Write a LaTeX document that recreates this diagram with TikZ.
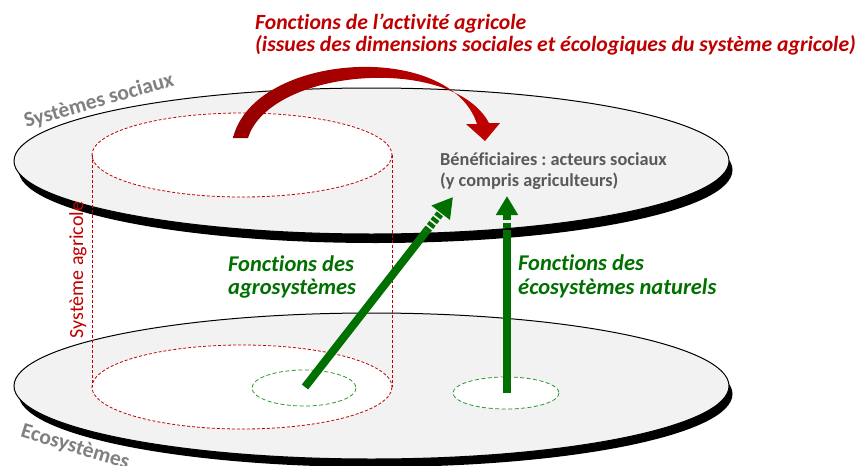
\documentclass[tikz,border=0pt]{standalone}
\usepackage{fontspec}
\setmainfont{Carlito}[Ligatures=NoCommon]
\usepackage{xcolor}
\usetikzlibrary{arrows.meta,calc}
\definecolor{rouge}{RGB}{192,0,0}
\definecolor{rougefonce}{RGB}{150,0,0}
\definecolor{vert}{RGB}{0,112,0}
\definecolor{vertclair}{RGB}{40,150,40}
\definecolor{grisfond}{RGB}{242,242,242}
\definecolor{gristexte}{RGB}{128,128,128}
\definecolor{grisbenef}{RGB}{89,89,89}
\frenchspacing

\begin{document}
\begin{tikzpicture}[x=1pt, y=-1pt,
        plateau/.style={fill=grisfond, draw=black, line width=1pt},
        ombre/.style={fill=black},
        cylindre/.style={draw=rouge, line width=0.8pt, dash pattern=on 3pt off 2pt},
        zone/.style={draw=vertclair, line width=0.8pt, dash pattern=on 4pt off 2.5pt, fill=white},
        fleche/.style={draw=vert, line width=8pt},
        titre/.style={text=rouge, font=\fontsize{21.7}{23}\selectfont\bfseries\itshape, inner sep=0pt},
        vtexte/.style={text=vert, font=\fontsize{22.5}{24}\selectfont\bfseries\itshape, inner sep=0pt},
        benef/.style={text=grisbenef, font=\fontsize{18.3}{20}\selectfont\bfseries, inner sep=0pt},
        niveau/.style={text=gristexte, font=\fontsize{21.5}{23}\selectfont\bfseries, inner sep=0pt}]
        \useasboundingbox (0,0) rectangle (860,466);
        \coordinate (eco) at (371.5,386);
        \coordinate (soc) at (371.5,161);
        \coordinate (basCyl) at (242,387);
        \coordinate (hautCyl) at (242,155);
        \coordinate (agro) at (305,387);
        \coordinate (nat) at (507,393);
        \coordinate (cibleA) at (453,197);
        \coordinate (cibleB) at (507,196);
        \fill[ombre] ($(eco)+(4,8)$) ellipse [x radius=357, y radius=73];
        \draw[plateau] (eco) ellipse [x radius=357.5, y radius=73];
        \draw[cylindre, fill=white] (basCyl) ellipse [x radius=150, y radius=42];
        \draw[zone] (304,388) ellipse [x radius=52, y radius=18];
        \draw[zone] (506,393) ellipse [x radius=53, y radius=16];
        \fill[ombre] ($(soc)+(4,9)$) ellipse [x radius=357, y radius=73];
        \draw[plateau] (soc) ellipse [x radius=357.5, y radius=73];
        \draw[cylindre, fill=white] (hautCyl) ellipse [x radius=150, y radius=42];
        \draw[cylindre] ($(hautCyl)+(-150,0)$) -- ($(basCyl)+(-150,0)$);
        \draw[cylindre] ($(hautCyl)+(150,0)$) -- ($(basCyl)+(150,0)$);
        \shade[left color=rougefonce, right color=rouge]
            (233,138) .. controls (254,52) and (450,40) .. (477,124)
            -- (466,124) -- (485,141) -- (500,123) -- (489,123)
            .. controls (452,54) and (270,68) .. (248,138) -- cycle;
        \draw[fleche] (agro) -- ($(agro)!0.82!(cibleA)$);
        \draw[fleche, dash pattern=on 4pt off 2pt, -{Triangle[length=20pt, width=22pt]}] ($(agro)!0.82!(cibleA)$) -- (cibleA);
        \draw[fleche] (nat) -- ($(nat)!0.8!(cibleB)$);
        \draw[fleche, dash pattern=on 5pt off 2.5pt, -{Triangle[length=19pt, width=21pt]}] ($(nat)!0.8!(cibleB)$) -- (cibleB);
        \node[titre, anchor=base west] (titre1) at (255,29) {Fonctions de l’activité agricole};
        \node[titre, anchor=base west] (titre2) at (255,51) {(issues des dimensions sociales et écologiques du système agricole)};
        \node[benef, anchor=base west] (benef1) at (440,165) {Bénéficiaires : acteurs sociaux};
        \node[benef, anchor=base west] (benef2) at (440,186) {(y compris agriculteurs)};
        \node[vtexte, anchor=base west] (agro1) at (228,271) {Fonctions des};
        \node[vtexte, anchor=base west] (agro2) at (228,294) {agrosystèmes};
        \node[vtexte, anchor=base west] (nat1) at (518,270) {Fonctions des};
        \node[vtexte, anchor=base west] (nat2) at (518,294) {écosystèmes naturels};
        \node[niveau, rotate=16] (sociaux) at (99,101) {Systèmes sociaux};
        \node[niveau, rotate=-17, anchor=north west] (ecosys) at (24,422) {Ecosystèmes};
        \node[text=rouge, font=\fontsize{20}{22}\selectfont, inner sep=0pt, rotate=90] (sysagri) at (78,270) {Système agricole};
    \end{tikzpicture}
\end{document}
